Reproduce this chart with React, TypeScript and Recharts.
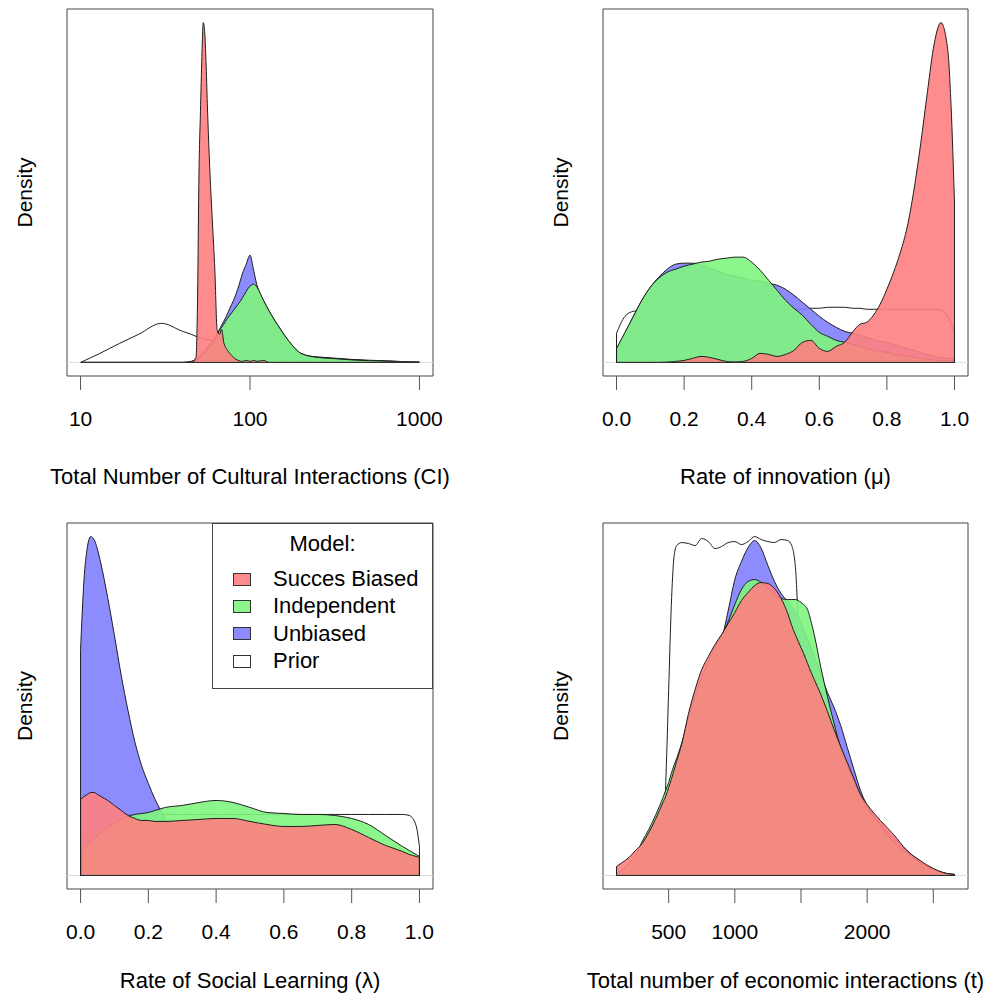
import React from "react";
import {
  ComposedChart,
  Area,
  XAxis,
  YAxis,
  ReferenceLine,
  ReferenceArea,
  Legend,
} from "recharts";

const FONT = "'Liberation Sans', Arial, Helvetica, sans-serif";

// pastel fills, nearly opaque: lines underneath only show faintly
const RED = "rgba(255,128,128,0.9)";
const GREEN = "rgba(128,245,128,0.9)";
const BLUE = "rgba(128,128,255,0.9)";

// --- Total number of cultural interactions (CI), log axis ---
const CI_X = [10, 13, 17, 22, 30, 40, 45, 48, 49, 50, 51, 52, 53, 54, 55, 56, 58, 60, 62, 64, 66, 68, 70, 73, 76, 80, 85, 90, 95, 100, 105, 110, 120, 130, 150, 170, 200, 250, 300, 400, 500, 700, 1000];
const CI_PRIOR = [0, 9, 19, 28, 39, 31, 28, 26, 25.5, 25, 24.6, 24.2, 23.9, 23.6, 23.3, 23, 22.3, 21.6, 21, 20.4, 19.9, 19.4, 18.9, 18.2, 17.5, 16.6, 15.6, 14.8, 14.1, 13.5, 12.9, 12.4, 11.5, 10.7, 9.5, 8.5, 7, 5.5, 4.5, 3, 2.2, 1.3, 0];
const CI_UNBIASED = [0, 0, 0, 0, 0, 0, 1, 3, 4, 6, 7, 9, 10, 12, 13, 15, 18, 21, 24, 28, 33, 37, 41, 47, 54, 62, 74, 88, 98, 107, 92, 77, 62, 51, 34, 21, 9, 5, 4, 2.5, 1.8, 1, 0.3];
const CI_INDEPENDENT = [0, 0, 0, 0, 0, 0, 1, 2, 3, 4, 5, 7, 8, 10, 11, 13, 16, 19, 23, 27, 32, 35, 38, 43, 47, 52, 58, 64, 71, 76, 78, 75, 62, 51, 34, 21, 9, 5, 4, 2.5, 1.8, 1, 0.3];
const CI_SUCCESS = [0, 0, 0, 0, 0, 0, 0, 5, 60, 190, 250, 305, 339, 330, 300, 258, 190, 140, 93, 32, 28, 33, 20, 13, 9, 5, 2, 1, 2, 1, 2, 1, 2, 0, 0, 0, 0, 0, 0, 0, 0, 0, 0];
const CI_TICKS = [10, 100, 1000];
const CI_TICK_LABELS = ["10", "100", "1000"];

// --- Rate of innovation (mu) ---
const MU_X = [0, 0.025, 0.05, 0.075, 0.1, 0.125, 0.15, 0.175, 0.2, 0.225, 0.25, 0.275, 0.3, 0.325, 0.35, 0.375, 0.4, 0.425, 0.45, 0.475, 0.5, 0.525, 0.55, 0.575, 0.6, 0.625, 0.65, 0.675, 0.7, 0.72, 0.74, 0.76, 0.78, 0.8, 0.82, 0.84, 0.86, 0.88, 0.9, 0.92, 0.94, 0.96, 0.98, 0.99, 1];
const MU_PRIOR = [29, 46, 51, 52, 53, 53, 53, 53, 53, 53, 53, 53, 53, 53, 53, 53, 53, 53, 53, 53, 53, 53, 53, 54, 54, 55, 55, 55, 54, 54, 53, 53, 53, 53, 53, 53, 53, 53, 53, 53, 53, 52, 46, 39, 28];
const MU_UNBIASED = [12, 29, 46, 62, 75, 85, 93, 98, 99, 99, 97, 94, 91, 88, 86, 84, 82, 81, 79, 77, 73, 67, 60, 53, 46, 40, 35, 31, 29, 27, 25, 23, 21, 20, 18, 16, 14, 12, 10, 8, 6, 5, 4, 3.5, 3];
const MU_INDEPENDENT = [14, 30, 46, 62, 75, 84, 90, 93, 96, 98, 100, 101, 103, 104, 105, 105, 100, 92, 82, 72, 62, 54, 47, 38, 30, 26, 22, 20, 18, 16, 14, 12, 11, 10, 8, 7, 6, 5, 4, 3, 2.5, 2, 1.5, 1.2, 1];
const MU_SUCCESS = [0, 0, 0, 0, 0, 0, 0.3, 1, 2, 4, 6, 5, 3, 1, 0.5, 1, 4, 9, 8, 6, 8, 12, 20, 22, 14, 11, 16, 20, 31, 38, 40, 47, 58, 73, 90, 110, 135, 172, 218, 270, 318, 339, 312, 255, 160];
const UNIT_TICKS = [0, 0.2, 0.4, 0.6, 0.8, 1];
const UNIT_TICK_LABELS = ["0.0", "0.2", "0.4", "0.6", "0.8", "1.0"];

// --- Rate of social learning (lambda) ---
const LAMBDA_X = [0, 0.01, 0.02, 0.03, 0.04, 0.05, 0.06, 0.08, 0.1, 0.12, 0.14, 0.16, 0.18, 0.2, 0.22, 0.25, 0.3, 0.35, 0.4, 0.45, 0.5, 0.55, 0.6, 0.65, 0.7, 0.75, 0.8, 0.85, 0.9, 0.95, 0.97, 0.99, 1];
const LAMBDA_PRIOR = [30, 38, 45, 50, 55, 58, 60, 61, 61, 61, 61, 61, 61, 61, 61, 61, 61, 61, 61, 61, 61, 61, 61, 61, 61, 61, 61, 61, 61, 61, 60, 50, 29];
const LAMBDA_UNBIASED = [225, 295, 328, 339, 336, 326, 312, 278, 240, 200, 165, 134, 110, 92, 76, 57, 33, 20, 13, 9, 6, 5, 4, 4, 3.5, 3, 3, 2.5, 2.5, 2, 2, 2, 2];
const LAMBDA_INDEPENDENT = [23, 27, 31, 34, 37, 40, 43, 48, 52, 56, 59, 61, 62, 63, 65, 68, 70, 73, 75, 73, 68, 63, 62, 61, 61, 60, 57, 51, 40, 29, 25, 21, 19];
const LAMBDA_SUCCESS = [76, 79, 81, 83, 83, 81, 79, 75, 70, 65, 60, 57, 55, 55, 54, 54, 55, 56, 57, 57, 54, 51, 49, 49, 50, 51, 46, 38, 30, 24, 21, 19, 18];

// --- Total number of economic interactions (t) ---
const T_X = [106, 150, 200, 250, 300, 350, 400, 430, 460, 480, 500, 520, 540, 560, 600, 650, 700, 750, 800, 850, 900, 950, 1000, 1050, 1100, 1150, 1200, 1250, 1300, 1350, 1400, 1430, 1460, 1480, 1500, 1520, 1550, 1580, 1600, 1650, 1700, 1750, 1800, 1850, 1900, 1950, 2000, 2100, 2200, 2300, 2400, 2500, 2600, 2660];
const T_PRIOR = [0, 0, 0, 0, 0, 0, 0, 5, 35, 100, 185, 270, 318, 330, 333, 332, 330, 337, 334, 327, 329, 333, 334, 331, 334, 339, 336, 334, 333, 336, 335, 330, 305, 245, 165, 90, 30, 7, 2, 0, 0, 0, 0, 0, 0, 0, 0, 0, 0, 0, 0, 0, 0, 0];
const T_UNBIASED = [0, 2, 5, 9, 18, 30, 45, 54, 63, 70, 78, 85, 93, 100, 118, 145, 168, 185, 203, 220, 236, 265, 296, 314, 328, 335, 327, 310, 294, 282, 274, 269, 263, 258, 252, 246, 236, 226, 219, 201, 183, 168, 150, 128, 106, 85, 70, 52, 38, 25, 14, 6, 2, 1];
const T_INDEPENDENT = [2, 6, 12, 20, 34, 46, 60, 69, 79, 86, 93, 102, 110, 117, 133, 158, 180, 198, 214, 228, 240, 254, 271, 286, 294, 296, 293, 287, 281, 277, 276, 276, 276, 275, 273, 271, 266, 252, 241, 208, 179, 152, 128, 110, 94, 80, 68, 50, 33, 22, 13, 6, 2, 1];
const T_SUCCESS = [9, 13, 18, 25, 32, 43, 56, 65, 74, 80, 88, 96, 105, 114, 132, 162, 186, 206, 219, 231, 241, 252, 263, 275, 283, 290, 293, 292, 287, 277, 262, 250, 240, 234, 228, 222, 212, 202, 196, 181, 164, 146, 129, 113, 97, 81, 71, 55, 41, 25, 15, 7, 2, 1];
const T_TICKS = [500, 1000, 1500, 2000, 2500];
const T_TICK_LABELS = ["500", "1000", "", "2000", ""];

const LEGEND_LABELS = ["Succes Biased", "Independent", "Unbiased", "Prior"];
const LEGEND_FILLS = [RED, GREEN, BLUE, "#ffffff"];

// drawing order: prior underneath, success biased on top
const SERIES = [
  { key: "prior", fill: "none" },
  { key: "unbiased", fill: BLUE },
  { key: "independent", fill: GREEN },
  { key: "success", fill: RED },
];

type Box = { left: number; top: number; right: number; bottom: number };

interface PanelProps {
  xs: number[];
  prior: number[];
  unbiased: number[];
  independent: number[];
  success: number[];
  log?: boolean;
  ticks: number[];
  tickLabels: string[];
  title: string;
  box: Box;
  axisHeight: number;
  titleGap: number;
  legendBox?: Box;
}

const Y_AXIS_W = 84;

const ModelLegend = ({ w, h }: { w: number; h: number }) => (
  <div
    style={{
      width: w,
      height: h,
      boxSizing: "border-box",
      border: "1px solid #444",
      background: "#fff",
      position: "relative",
      fontFamily: FONT,
      fontSize: 22,
      color: "#000",
    }}
  >
    <div style={{ position: "absolute", top: 7, width: "100%", textAlign: "center", lineHeight: "26px" }}>
      Model:
    </div>
    {LEGEND_LABELS.map((label, i) => (
      <div
        key={label}
        style={{ position: "absolute", left: 20, top: 42 + i * 27.4, height: 26, display: "flex", alignItems: "center" }}
      >
        <span
          style={{
            width: 18,
            height: 13,
            boxSizing: "border-box",
            border: "1px solid #333",
            background: LEGEND_FILLS[i],
          }}
        />
        <span style={{ marginLeft: 22, lineHeight: "26px", whiteSpace: "nowrap" }}>{label}</span>
      </div>
    ))}
  </div>
);

function DensityPanel(p: PanelProps) {
  const n = p.xs.length;
  const data = p.xs.map((x, i) => ({
    x,
    prior: p.prior[i],
    unbiased: p.unbiased[i],
    independent: p.independent[i],
    success: p.success[i],
  }));

  // R-style 4% padding on both axes
  let xDomain: [number, number];
  if (p.log) {
    const a = Math.log10(p.xs[0]);
    const b = Math.log10(p.xs[n - 1]);
    xDomain = [10 ** (a - 0.04 * (b - a)), 10 ** (b + 0.04 * (b - a))];
  } else {
    const r = p.xs[n - 1] - p.xs[0];
    xDomain = [p.xs[0] - 0.04 * r, p.xs[n - 1] + 0.04 * r];
  }
  const yMax = Math.max(...p.prior, ...p.unbiased, ...p.independent, ...p.success);
  const yDomain: [number, number] = [-0.04 * yMax, 1.04 * yMax];

  const chartLeft = p.box.left - 6 - Y_AXIS_W;
  const chartTop = p.box.top - 9;
  const width = p.box.right - p.box.left + 6 + Y_AXIS_W + 30;
  const height = p.box.bottom + p.axisHeight - chartTop;

  const ends: { x: number; v: number }[] = [];
  SERIES.forEach((s) => {
    [0, n - 1].forEach((i) => {
      const v = (data[i] as any)[s.key];
      if (v > 0) ends.push({ x: p.xs[i], v });
    });
  });

  return (
    <div style={{ position: "absolute", left: chartLeft, top: chartTop }}>
      <ComposedChart
        width={width}
        height={height}
        data={data}
        margin={{ top: 9, right: 30, bottom: 0, left: 6 }}
      >
        <XAxis
          dataKey="x"
          type="number"
          scale={p.log ? "log" : "linear"}
          domain={xDomain}
          allowDataOverflow
          ticks={p.ticks}
          interval={0}
          tickFormatter={(v: number) => p.tickLabels[p.ticks.indexOf(v)] ?? ""}
          tickSize={14}
          tickMargin={21}
          axisLine={false}
          tickLine={{ stroke: "#555" }}
          tick={{ fontSize: 21, fill: "#000", fontFamily: FONT }}
          height={p.axisHeight}
          label={{
            value: p.title,
            position: "insideBottom",
            offset: p.axisHeight - p.titleGap,
            fontSize: 22,
            fill: "#000",
            fontFamily: FONT,
          }}
        />
        <YAxis
          type="number"
          domain={yDomain}
          allowDataOverflow
          tick={false}
          tickLine={false}
          axisLine={false}
          width={Y_AXIS_W}
          label={{
            value: "Density",
            angle: -90,
            position: "center",
            fontSize: 21,
            fill: "#000",
            fontFamily: FONT,
          }}
        />
        <ReferenceLine y={0} stroke="#dddddd" ifOverflow="visible" />
        {SERIES.map((s) => (
          <Area
            key={s.key}
            dataKey={s.key}
            type="monotone"
            baseValue={0}
            stroke="#1e1e1e"
            strokeWidth={1}
            fill={s.fill}
            fillOpacity={1}
            dot={false}
            activeDot={false}
            isAnimationActive={false}
          />
        ))}
        <ReferenceLine
          segment={[
            { x: p.xs[0], y: 0 },
            { x: p.xs[n - 1], y: 0 },
          ]}
          stroke="#1e1e1e"
          ifOverflow="visible"
        />
        {ends.map((e, i) => (
          <ReferenceLine
            key={i}
            segment={[
              { x: e.x, y: 0 },
              { x: e.x, y: e.v },
            ]}
            stroke="#1e1e1e"
            ifOverflow="visible"
          />
        ))}
        <ReferenceArea
          x1={xDomain[0]}
          x2={xDomain[1]}
          y1={yDomain[0]}
          y2={yDomain[1]}
          fill="none"
          fillOpacity={0}
          stroke="#444"
          strokeWidth={1}
          ifOverflow="visible"
        />
        {p.legendBox && (
          <Legend
            layout="horizontal"
            verticalAlign="middle"
            align="center"
            width={p.legendBox.right - p.legendBox.left}
            height={p.legendBox.bottom - p.legendBox.top}
            wrapperStyle={{
              left: p.legendBox.left - chartLeft,
              top: p.legendBox.top - chartTop,
            }}
            content={() => (
              <ModelLegend
                w={p.legendBox!.right - p.legendBox!.left}
                h={p.legendBox!.bottom - p.legendBox!.top}
              />
            )}
          />
        )}
      </ComposedChart>
    </div>
  );
}

export default function App() {
  return (
    <div
      style={{
        position: "absolute",
        left: 0,
        top: 0,
        width: 1008,
        height: 993,
        overflow: "hidden",
        background: "#fff",
        fontFamily: FONT,
      }}
    >
      <DensityPanel
        xs={CI_X}
        prior={CI_PRIOR}
        unbiased={CI_UNBIASED}
        independent={CI_INDEPENDENT}
        success={CI_SUCCESS}
        log
        ticks={CI_TICKS}
        tickLabels={CI_TICK_LABELS}
        title="Total Number of Cultural Interactions (CI)"
        box={{ left: 67, top: 9, right: 433, bottom: 376 }}
        axisHeight={120}
        titleGap={108}
      />
      <DensityPanel
        xs={MU_X}
        prior={MU_PRIOR}
        unbiased={MU_UNBIASED}
        independent={MU_INDEPENDENT}
        success={MU_SUCCESS}
        ticks={UNIT_TICKS}
        tickLabels={UNIT_TICK_LABELS}
        title="Rate of innovation (μ)"
        box={{ left: 603, top: 9, right: 968, bottom: 376 }}
        axisHeight={120}
        titleGap={108}
      />
      <DensityPanel
        xs={LAMBDA_X}
        prior={LAMBDA_PRIOR}
        unbiased={LAMBDA_UNBIASED}
        independent={LAMBDA_INDEPENDENT}
        success={LAMBDA_SUCCESS}
        ticks={UNIT_TICKS}
        tickLabels={UNIT_TICK_LABELS}
        title="Rate of Social Learning (λ)"
        box={{ left: 67, top: 523, right: 433, bottom: 889 }}
        axisHeight={104}
        titleGap={99}
        legendBox={{ left: 212, top: 523, right: 433, bottom: 689 }}
      />
      <DensityPanel
        xs={T_X}
        prior={T_PRIOR}
        unbiased={T_UNBIASED}
        independent={T_INDEPENDENT}
        success={T_SUCCESS}
        ticks={T_TICKS}
        tickLabels={T_TICK_LABELS}
        title="Total number of economic interactions (t)"
        box={{ left: 603, top: 523, right: 968, bottom: 889 }}
        axisHeight={104}
        titleGap={99}
      />
    </div>
  );
}
